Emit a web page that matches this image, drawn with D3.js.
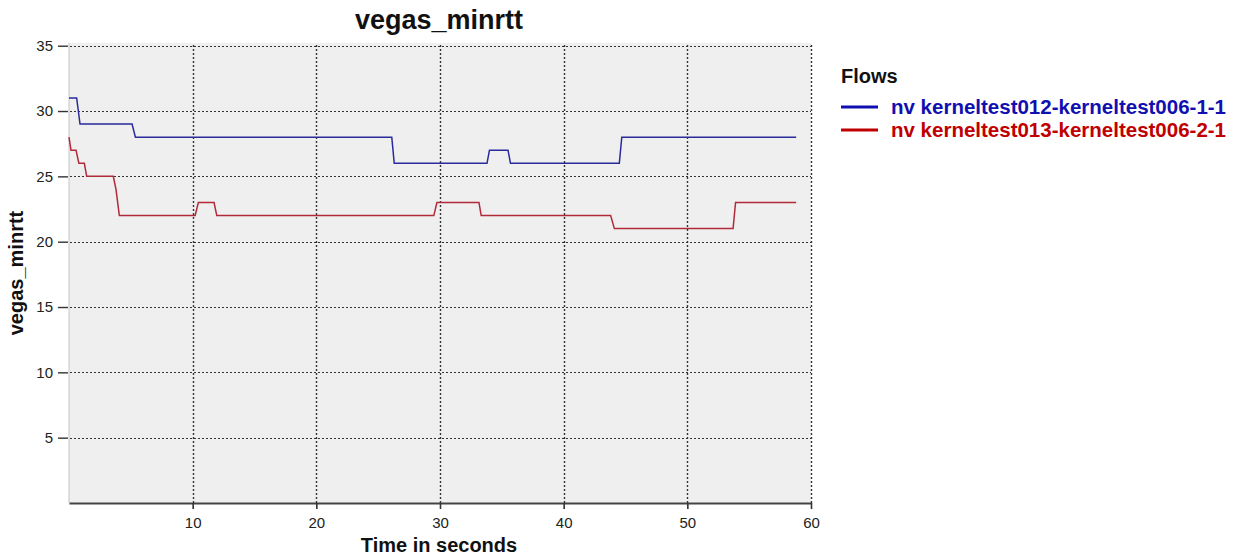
<!DOCTYPE html>
<html>
<head>
<meta charset="utf-8">
<script src="https://cdn.jsdelivr.net/npm/d3@7"></script>
<style>
  html, body { margin: 0; padding: 0; background: #ffffff; }
  svg { display: block; font-family: "Liberation Sans", Arial, sans-serif; }
</style>
</head>
<body>
<svg id="chart" width="1236" height="559"></svg>
<script>
// Flow 1: time (s) and vegas min RTT samples
const flow1Time  = [0, 0.62, 0.89, 5.1, 5.37, 26.1, 26.3, 33.8, 34.0, 35.5, 35.7, 44.5, 44.7, 58.8];
const flow1Value = [31, 31,  29,   29,  28,   28,   26,   26,   27,   27,   26,   26,   28,   28];

// Flow 2: time (s) and vegas min RTT samples
const flow2Time  = [0, 0.16, 0.57, 0.8, 1.24, 1.43, 3.58, 3.8, 4.07, 10.2, 10.46, 11.73, 11.95, 29.5, 29.75, 33.15, 33.33, 43.8, 44.1, 53.7, 53.9, 58.8];
const flow2Value = [28, 27,  27,   26,  26,   25,   25,   24,  22,   22,   23,    23,    22,    22,   23,    23,    22,    22,   21,   21,   23,   23];

const flowNames  = ["nv kerneltest012-kerneltest006-1-1", "nv kerneltest013-kerneltest006-2-1"];
const xTicks = [10, 20, 30, 40, 50, 60];
const yTicks = [5, 10, 15, 20, 25, 30, 35];

const svg = d3.select("#chart");
const plot = { left: 69, right: 811, top: 43, bottom: 503 };

const x = d3.scaleLinear().domain([0, 60]).range([plot.left, plot.right]);
const y = d3.scaleLinear().domain([0, 35]).range([plot.bottom, 45.7]);

// plot background
svg.append("rect")
  .attr("x", plot.left).attr("y", plot.top)
  .attr("width", plot.right - plot.left).attr("height", plot.bottom - plot.top)
  .attr("fill", "#efefef");

// left edge
svg.append("line")
  .attr("x1", plot.left).attr("x2", plot.left)
  .attr("y1", plot.top).attr("y2", plot.bottom)
  .attr("stroke", "#c4c4c4").attr("stroke-width", 1);

// gridlines
const grid = svg.append("g");
grid.selectAll(".hg").data(yTicks).join("line")
  .attr("x1", plot.left + 1).attr("x2", plot.right)
  .attr("y1", d => Math.round(y(d)) + 0.5).attr("y2", d => Math.round(y(d)) + 0.5)
  .attr("stroke", "#333").attr("stroke-width", 1.2)
  .attr("stroke-dasharray", "2,2");
grid.selectAll(".vg").data(xTicks).join("line")
  .attr("x1", d => Math.round(x(d)) + 0.5).attr("x2", d => Math.round(x(d)) + 0.5)
  .attr("y1", plot.top + 2).attr("y2", plot.bottom)
  .attr("stroke", "#333").attr("stroke-width", 1.4)
  .attr("stroke-dasharray", "2,2");

// bottom axis
const xAxis = d3.axisBottom(x).tickValues(xTicks).tickSize(6).tickPadding(8).tickSizeOuter(0);
const gx = svg.append("g").attr("transform", `translate(0,${plot.bottom})`).call(xAxis);
gx.select(".domain").attr("stroke", "#444").attr("stroke-width", 2.2);
gx.selectAll(".tick line").attr("stroke", "#333").attr("stroke-width", 1.6);
gx.selectAll(".tick text").attr("fill", "#222").attr("font-size", 15)
  .attr("font-family", "Liberation Sans, Arial, sans-serif");

// left axis ticks
const yAxis = d3.axisLeft(y).tickValues(yTicks).tickSize(10).tickPadding(5).tickSizeOuter(0);
const gy = svg.append("g").attr("transform", `translate(${plot.left - 1},0)`).call(yAxis);
gy.select(".domain").remove();
gy.selectAll(".tick line").attr("stroke", "#333").attr("stroke-width", 1.4);
gy.selectAll(".tick text").attr("fill", "#222").attr("font-size", 15)
  .attr("font-family", "Liberation Sans, Arial, sans-serif");

// series
const line = d3.line().x(d => x(d[0])).y(d => y(d[1]));
const series = [
  { pts: d3.zip(flow1Time, flow1Value), color: "#2a2a9c", legend: "#1010b0", name: flowNames[0] },
  { pts: d3.zip(flow2Time, flow2Value), color: "#b02a3a", legend: "#c00000", name: flowNames[1] }
];
svg.append("g").selectAll("path").data(series).join("path")
  .attr("d", d => line(d.pts))
  .attr("fill", "none")
  .attr("stroke", d => d.color)
  .attr("stroke-width", 1.5);

// title
svg.append("text")
  .attr("x", 439).attr("y", 29)
  .attr("text-anchor", "middle")
  .attr("font-size", 27).attr("font-weight", "bold").attr("fill", "#111")
  .text("vegas_minrtt");

// axis titles
svg.append("text")
  .attr("x", 439).attr("y", 552)
  .attr("text-anchor", "middle")
  .attr("font-size", 20).attr("font-weight", "bold").attr("fill", "#111")
  .text("Time in seconds");
svg.append("text")
  .attr("transform", "translate(23,273) rotate(-90)")
  .attr("text-anchor", "middle")
  .attr("font-size", 20).attr("font-weight", "bold").attr("fill", "#111")
  .text("vegas_minrtt");

// legend
const lg = svg.append("g").attr("transform", "translate(841,0)");
lg.append("text").attr("x", 0).attr("y", 83)
  .attr("font-size", 20).attr("font-weight", "bold").attr("fill", "#111")
  .text("Flows");
const items = lg.selectAll(".item").data(series).join("g")
  .attr("transform", (d, i) => `translate(0,${107 + i * 23})`);
items.append("line")
  .attr("x1", 0).attr("x2", 37).attr("y1", 0).attr("y2", 0)
  .attr("stroke", d => d.legend).attr("stroke-width", 3);
items.append("text")
  .attr("x", 50).attr("y", 7)
  .attr("font-size", 20.5).attr("font-weight", "bold")
  .attr("fill", d => d.legend)
  .text(d => d.name);
</script>
</body>
</html>
